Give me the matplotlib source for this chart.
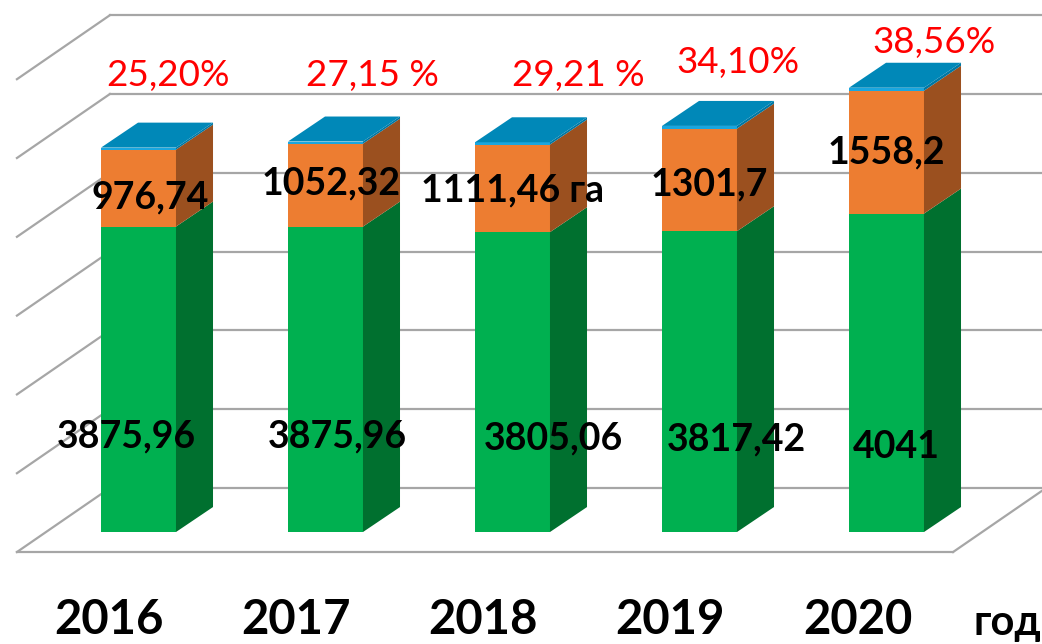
import matplotlib

matplotlib.use("Agg")
import matplotlib.pyplot as plt
from matplotlib.patches import Polygon

# data
years = ["2016", "2017", "2018", "2019", "2020"]
green_vals = [3875.96, 3875.96, 3805.06, 3817.42, 4041.0]
orange_vals = [976.74, 1052.32, 1111.46, 1301.7, 1558.2]
share_pct = [25.20, 27.15, 29.21, 34.10, 38.56]
green_labels = ["3875,96", "3875,96", "3805,06", "3817,42", "4041"]
orange_labels = ["976,74", "1052,32", "1111,46 га", "1301,7", "1558,2"]
pct_labels = ["25,20%", "27,15 %", "29,21 %", "34,10%", "38,56%"]
unit_label = "год"
grid_step = 1000
grid_max = 6000

# label placement (data coords)
green_lab_x = [-0.067, 1.061, 2.217, 3.195, 4.051]
green_lab_y = [1218, 1206, 1193, 1168, 1079]
orange_lab_x = [0.061, 1.029, 2.003, 3.05, 3.997]
orange_lab_y = [4251, 4429, 4340, 4404, 4810]
pct_lab_x = [0.158, 1.249, 2.35, 3.206, 4.254]
pct_lab_y = [5799, 5799, 5799, 5964, 6218]

# fake 3d geometry
BAR_W = 0.401
BAR_DX, BAR_DY = 0.198, 317
FLOOR_DX, FLOOR_DY = 0.497, 812
FLOOR_FRONT = -254
X_LEFT, X_RIGHT = -0.650, 4.356
BAR_DEPTH0 = -FLOOR_FRONT / FLOOR_DY

GREEN = ("#00B050", "#00702F")
ORANGE = ("#ED7D31", "#9B501F")
BLUE = ("#1AA6DF", "#0077A3", "#0088B8")
GRID = "#A6A6A6"

plt.rcParams["font.family"] = ["Lato", "Open Sans", "DejaVu Sans"]

fig = plt.figure(figsize=(10.42, 6.44), dpi=100)
ax = fig.add_axes([0, 0, 1, 1])
ax.set_xlim(-0.7406, 4.8316)
ax.set_ylim(-1421, 6751)
ax.axis("off")

# walls and floor
back_x0 = X_LEFT + FLOOR_DX
back_x1 = X_RIGHT + FLOOR_DX
for k in range(0, grid_max + grid_step, grid_step):
    yb = FLOOR_FRONT + FLOOR_DY + k
    ax.plot([back_x0, back_x1], [yb, yb], color=GRID, lw=1.6, zorder=1)
    ax.plot([X_LEFT, back_x0], [FLOOR_FRONT + k, yb], color=GRID, lw=1.6, zorder=1)
ax.plot([X_LEFT, X_RIGHT], [FLOOR_FRONT, FLOOR_FRONT], color=GRID, lw=1.6, zorder=1)
ax.plot([X_RIGHT, back_x1], [FLOOR_FRONT, FLOOR_FRONT + FLOOR_DY], color=GRID, lw=1.6, zorder=1)


def segment(xc, v0, v1, front, side, top=None, z=2):
    xl, xr = xc - BAR_W / 2, xc + BAR_W / 2
    ax.add_patch(Polygon([(xl, v0), (xr, v0), (xr, v1), (xl, v1)], closed=True,
                         facecolor=front, edgecolor="none", zorder=z))
    ax.add_patch(Polygon([(xr, v0), (xr + BAR_DX, v0 + BAR_DY), (xr + BAR_DX, v1 + BAR_DY), (xr, v1)],
                         closed=True, facecolor=side, edgecolor="none", zorder=z))
    if top is not None:
        ax.add_patch(Polygon([(xl, v1), (xr, v1), (xr + BAR_DX, v1 + BAR_DY), (xl + BAR_DX, v1 + BAR_DY)],
                             closed=True, facecolor=top, edgecolor="none", zorder=z))


for i in range(len(years)):
    g, o, b = green_vals[i], orange_vals[i], share_pct[i]
    segment(i, 0, g, *GREEN)
    segment(i, g, g + o, *ORANGE)
    segment(i, g + o, g + o + b, *BLUE)

    ax.text(green_lab_x[i], green_lab_y[i], green_labels[i], ha="center", va="center",
            fontsize=27, fontweight="bold", color="black", zorder=5)
    ax.text(orange_lab_x[i], orange_lab_y[i], orange_labels[i], ha="center", va="center",
            fontsize=27, fontweight="bold", color="black", zorder=5)
    ax.text(pct_lab_x[i], pct_lab_y[i], pct_labels[i], ha="center", va="center",
            fontsize=26.5, color="#FF0000", zorder=5)
    ax.text(i - BAR_DEPTH0 * FLOOR_DX, -1117, years[i], ha="center", va="center",
            fontsize=34, fontweight="bold", color="black", zorder=5)

ax.text(4.463, -1160, unit_label, ha="left", va="center", fontsize=30,
        fontweight="bold", color="black", zorder=5)

fig.savefig("out.png", dpi=100)
